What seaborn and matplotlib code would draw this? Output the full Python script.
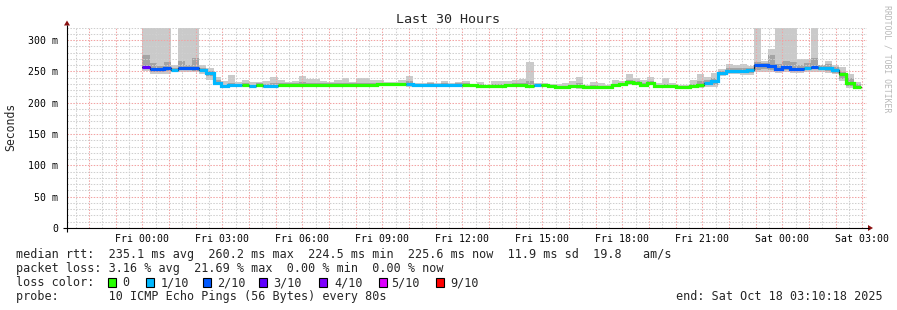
import numpy as np
import pandas as pd
import matplotlib
matplotlib.use("Agg")
import matplotlib.pyplot as plt
import seaborn as sns
from matplotlib.patches import Rectangle, Polygon
from matplotlib.ticker import MultipleLocator, FuncFormatter

# ---------------- data ----------------
step_minutes = 16          # consolidation step
start_hour = 0.0           # hours relative to Fri 00:00

median_ms = [257, 254, 253, 255, 252, 256, 256, 255, 252, 247,
             232, 226, 227.5, 227.5, 228.5, 226, 228, 226.6, 227, 227.5,
             228.5, 229, 229, 228.5, 229, 228.5, 228.5, 229, 228.5, 229,
             228.5, 229, 228.5, 229.3, 229.3, 229.3, 229.3, 230, 228.5, 228.5,
             228.5, 228.5, 228.5, 228.5, 228.5, 227.7, 227.7, 226, 226, 227,
             227, 227.7, 227.7, 227.7, 226, 227.7, 227.7, 226.6, 224.5, 224.5,
             226, 226, 224.5, 224.5, 224.5, 224.5, 227.7, 229.8, 233, 231.4,
             229, 231.4, 226, 226, 226, 224.5, 224.5, 226, 229, 231.4,
             235, 247.3, 250, 250, 250.5, 251.5, 259.6, 260.2, 258.5, 254.3,
             256.4, 253.3, 254.3, 255.9, 257.4, 255.9, 255.3, 251.7, 245, 231.4, 225.6]

loss_tenths = [3, 2, 2, 2, 1, 2, 2, 2, 1, 1,
               1, 1, 1, 1, 0, 1, 0, 1, 1, 0,
               0, 0, 0, 0, 0, 0, 0, 0, 0, 0,
               0, 0, 0, 0, 0, 0, 0, 1, 1, 1,
               1, 1, 1, 1, 1, 0, 0, 0, 0, 0,
               0, 0, 0, 0, 0, 1, 0, 0, 0, 0,
               0, 0, 0, 0, 0, 0, 0, 0, 0, 0,
               0, 0, 0, 0, 0, 0, 0, 0, 0, 1,
               1, 1, 1, 1, 1, 1, 2, 2, 2, 2,
               2, 2, 2, 1, 2, 1, 1, 1, 0, 0, 0]

ping_max = [330, 330, 330, 330, 260, 330, 330, 330, 260.6, 255,
            241, 234, 244, 233.5, 236, 232.5, 232.5, 234, 241.5, 235.5,
            233, 235, 242.5, 238, 238, 235, 233, 235.5, 239.5, 232.5,
            239.5, 239.5, 235.5, 235.6, 233, 233, 237, 242.5, 232, 232,
            233, 231.6, 234.3, 231.6, 233, 234, 230.6, 233, 228.5, 234.5,
            234, 234, 235.6, 238.2, 265, 231.6, 231.6, 230.6, 230, 231.6,
            234.3, 241, 228, 233, 231.6, 228, 235.6, 234.3, 245, 239.5,
            237, 241, 232, 239.5, 231.6, 228, 228, 237, 246, 241.6,
            247.3, 254, 262, 259.6, 261, 258.5, 330, 266, 286, 330,
            330, 330, 270, 269, 330, 260.6, 266, 259.6, 257, 246, 233]

ping_9 = [276, 263, 258, 265, 256, 267, 260, 271, 256, 251,
          237, 229, 231, 230, 231, 229, 231, 230, 232, 231,
          231, 231.5, 233, 232, 232, 231, 231, 231.5, 232, 231,
          232, 232, 231, 232, 231.5, 231.5, 232, 234, 230.5, 230.5,
          231, 230.5, 231, 230.5, 231, 231, 229.5, 229.5, 228, 230,
          230, 230, 231, 231.5, 234, 230, 230, 229, 227, 227,
          229, 231, 227, 227.5, 227, 227, 230.5, 232, 237, 234,
          232, 234, 229, 230, 228.5, 227, 227, 230, 235, 236,
          240, 251, 256, 255, 255, 255, 265, 264, 275.6, 262,
          266, 265, 259.6, 264, 271, 260, 262, 257, 249, 239, 230]

ping_2 = [253, 249, 249, 250, 250, 252, 252, 251, 249, 242,
          230, 224.5, 225.5, 225.5, 226.5, 224.5, 226.5, 225, 225.5, 226,
          227, 227, 227, 227, 227, 227, 227, 227, 227, 227,
          227, 227, 227, 227.5, 227.5, 227.5, 227.5, 227, 227, 227,
          227, 227, 227, 227, 227, 226, 226, 224.5, 224.5, 225.5,
          225.5, 225.5, 225.5, 225.5, 224.5, 226, 226, 225, 223, 223,
          224.5, 224, 223, 223, 223, 223, 226, 228, 231, 229.5,
          227.5, 229.5, 224.5, 224.5, 224.5, 223, 223, 224.5, 226, 228,
          229, 245, 248, 248, 247, 247, 252, 253, 252, 251,
          252, 250, 251, 252, 253, 252, 251, 248, 238, 226, 224]

ping_min = [250, 245, 245, 246, 249, 249, 249, 249, 246.5, 237,
            228, 223.5, 224.5, 224.5, 225, 223.5, 225, 224, 224.5, 225,
            225.5, 225.5, 226, 225.5, 225.5, 225.5, 225.5, 226, 225.5, 225.5,
            225.5, 226, 225.5, 226, 226, 226, 226, 225.5, 225.5, 225.5,
            225.5, 225.5, 225.5, 225.5, 225.5, 224.5, 224.5, 223.5, 223.5, 224.5,
            224.5, 224.5, 224.5, 224.5, 223, 224.5, 224.5, 223.5, 222, 222,
            223, 222.5, 222, 222, 222, 222, 224.5, 226.5, 229, 228,
            226, 228, 223, 223, 223, 222, 222, 223, 224, 225,
            225, 243, 246, 246, 244.7, 244.7, 249, 249, 249, 248,
            249, 248, 248, 249, 249, 249, 248, 245, 234, 223, 223]

loss_colors = {0: "#26ff00", 1: "#00b8ff", 2: "#0059ff", 3: "#5e00ff",
               4: "#7e00ff", 5: "#dd00ff", 9: "#ff0000"}
legend_loss_keys = [0, 1, 2, 3, 4, 5, 9]
legend_loss_labels = ["0", "1/10", "2/10", "3/10", "4/10", "5/10", "9/10"]

x_tick_hours = [0, 3, 6, 9, 12, 15, 18, 21, 24, 27]
x_tick_labels = ["Fri 00:00", "Fri 03:00", "Fri 06:00", "Fri 09:00", "Fri 12:00",
                 "Fri 15:00", "Fri 18:00", "Fri 21:00", "Sat 00:00", "Sat 03:00"]
y_tick_values = [0, 50, 100, 150, 200, 250, 300]
y_tick_labels = ["0", "50 m", "100 m", "150 m", "200 m", "250 m", "300 m"]

title = "Last 30 Hours"
y_label = "Seconds"
legend_lines = [
    "median rtt:  235.1 ms avg  260.2 ms max  224.5 ms min  225.6 ms now  11.9 ms sd  19.8   am/s",
    "packet loss: 3.16 % avg  21.69 % max  0.00 % min  0.00 % now",
]
probe_text = "probe:       10 ICMP Echo Pings (56 Bytes) every 80s"
end_text = "end: Sat Oct 18 03:10:18 2025"
watermark = "RRDTOOL / TOBI OETIKER"

x_min_h, x_max_h = -2.8283, 27.1717
y_max = 320

# ---------------- style ----------------
sns.set_style("white")
plt.rcParams["font.family"] = ["DejaVu Sans Mono"]

W, H = 897, 310
fig = plt.figure(figsize=(W / 100, H / 100), dpi=100)
fig.patch.set_facecolor("white")

ax_l, ax_r, ax_top, ax_bot = 67, 867, 27.5, 228
ax = fig.add_axes([ax_l / W, (H - ax_bot) / H, (ax_r - ax_l) / W, (ax_bot - ax_top) / H])
ax.set_facecolor("white")

n = len(median_ms)
edges = start_hour + np.arange(n + 1) * step_minutes / 60.0

def ext(a):
    a = list(a)
    return np.array(a + [a[-1]], dtype=float)

# smoke
ax.fill_between(edges, ext(ping_min), ext(ping_max), step="post", color="#cacaca", lw=0, zorder=1)
ax.fill_between(edges, ext(ping_2), ext(ping_9), step="post", color="#a4a4a4", lw=0, zorder=1.1)

# black median step line (seaborn)
df = pd.DataFrame({"t": edges, "median": ext(median_ms)})
sns.lineplot(data=df, x="t", y="median", drawstyle="steps-post", color="#202020",
             lw=0.9, estimator=None, ax=ax, zorder=3)

# coloured median segments by loss (runs of equal loss)
i = 0
while i < n:
    j = i
    while j + 1 < n and loss_tenths[j + 1] == loss_tenths[i]:
        j += 1
    xs = list(edges[i:j + 2])
    ys = list(median_ms[i:j + 1]) + [median_ms[j]]
    ax.plot(xs, ys, drawstyle="steps-post", color=loss_colors[loss_tenths[i]],
            lw=2.3, solid_capstyle="butt", solid_joinstyle="miter", zorder=4)
    i = j + 1

ax.set_xlim(x_min_h, x_max_h)
ax.set_ylim(0, y_max)

ax.xaxis.set_major_locator(MultipleLocator(1))
ax.xaxis.set_minor_locator(MultipleLocator(0.5))
lab_map = dict(zip(x_tick_hours, x_tick_labels))
ax.xaxis.set_major_formatter(FuncFormatter(lambda v, p: lab_map.get(int(round(v)), "") if abs(v - round(v)) < 1e-6 else ""))
ax.yaxis.set_major_locator(MultipleLocator(50))
ax.yaxis.set_minor_locator(MultipleLocator(10))
ymap = dict(zip(y_tick_values, y_tick_labels))
ax.yaxis.set_major_formatter(FuncFormatter(lambda v, p: ymap.get(int(round(v)), "")))

ax.set_axisbelow(False)
ax.grid(which="minor", color="#cfcfcf", linestyle=(0, (1.4, 1.4)), lw=0.75, zorder=2)
ax.grid(which="major", color="#f2a3a3", linestyle=(0, (1.4, 1.4)), lw=0.75, zorder=2.1)

ax.tick_params(axis="both", which="major", length=2.2, width=0.75, color="#e89090",
               labelsize=7.1, labelcolor="black")
ax.tick_params(axis="both", which="minor", length=1.5, width=0.75, color="#bbbbbb")
ax.tick_params(axis="x", which="major", pad=2.0)
ax.tick_params(axis="y", which="major", pad=4.0)
for s in ax.spines.values():
    s.set_visible(False)
ax.set_xlabel("")
ax.set_ylabel("")

# ---------------- overlay for texts / axes lines ----------------
ov = fig.add_axes([0, 0, 1, 1])
ov.set_xlim(0, W)
ov.set_ylim(H, 0)
ov.axis("off")
ov.patch.set_alpha(0)

ov.plot([67, 67], [232, 25], color="black", lw=0.8, solid_capstyle="butt")
ov.plot([63, 869], [228, 228], color="black", lw=0.8, solid_capstyle="butt")
ov.add_patch(Polygon([[64, 25.5], [70, 25.5], [67, 20.5]], closed=True, color="#8b1010", lw=0))
ov.add_patch(Polygon([[868, 225], [868, 231], [873, 228]], closed=True, color="#8b1010", lw=0))

ov.text(448.5, 19.5, title, ha="center", va="center", fontsize=9.6)
ov.text(11, 127, y_label, ha="center", va="center", rotation=90, fontsize=8.3)
ov.text(886.5, 59, watermark, ha="center", va="center", rotation=270, fontsize=5.9, color="#b8b8b8")

fs = 8.5
ov.text(16, 254.5, legend_lines[0], ha="left", va="center", fontsize=fs)
ov.text(16, 268.5, legend_lines[1], ha="left", va="center", fontsize=fs)
ov.text(16, 282.5, "loss color:", ha="left", va="center", fontsize=fs)
box_x = [108, 146, 203, 259, 319, 378.5, 436]
text_x = [122.7, 160.3, 217.5, 273.5, 334.5, 391, 450.4]
for k, lab, bx, tx in zip(legend_loss_keys, legend_loss_labels, box_x, text_x):
    ov.add_patch(Rectangle((bx, 277.5), 8, 9, facecolor=loss_colors[k], edgecolor="black", lw=0.8))
    ov.text(tx, 282.5, lab, ha="left", va="center", fontsize=fs)
ov.text(16, 296.5, probe_text, ha="left", va="center", fontsize=fs)
ov.text(883, 296.5, end_text, ha="right", va="center", fontsize=fs)

fig.savefig("out.png", dpi=100, facecolor="white")
